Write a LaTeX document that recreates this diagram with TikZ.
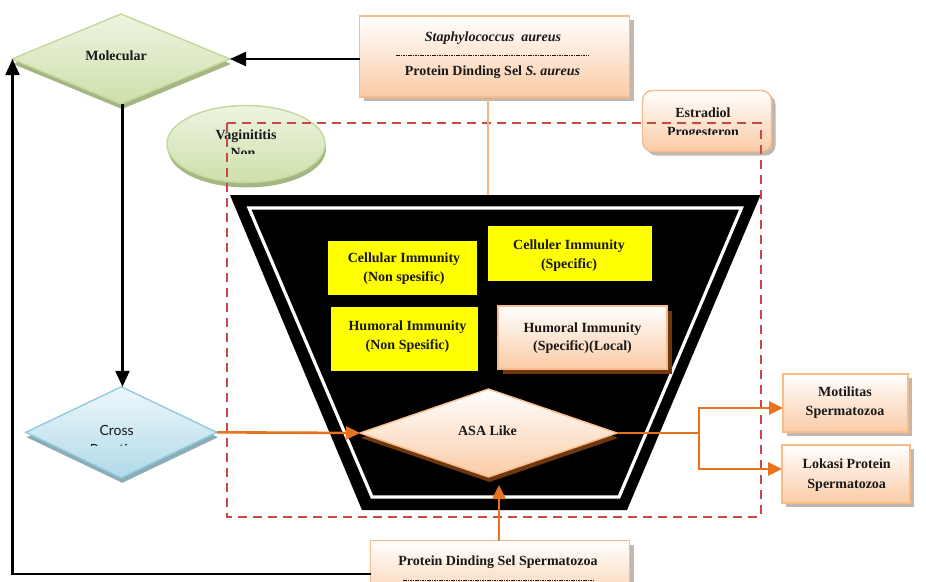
\documentclass[tikz,border=0pt]{standalone}
\usepackage{fontspec}
\setmainfont{Liberation Serif}
\newfontfamily\crossfont{Lato}
\usetikzlibrary{shapes.geometric,shadows,arrows.meta,calc}
\definecolor{peach}{RGB}{250,203,165}
\definecolor{peachline}{RGB}{248,188,138}
\definecolor{boxshadow}{RGB}{195,182,172}
\definecolor{orangeline}{RGB}{232,115,30}
\definecolor{lightorange}{RGB}{248,178,125}
\definecolor{greenA}{RGB}{238,244,225}
\definecolor{greenB}{RGB}{205,224,170}
\definecolor{greenline}{RGB}{196,216,155}
\definecolor{greenshadow}{RGB}{165,182,130}
\definecolor{blueA}{RGB}{238,247,251}
\definecolor{blueB}{RGB}{175,218,232}
\definecolor{blueline}{RGB}{145,203,222}
\definecolor{blueshadow}{RGB}{140,172,184}
\definecolor{reddash}{RGB}{200,72,72}
\definecolor{asashadow}{RGB}{110,55,15}
\definecolor{txt}{RGB}{25,25,25}
\definecolor{yel}{RGB}{255,255,0}
\tikzset{
 lbl/.style={anchor=base, inner sep=0pt, text=txt, font=\fontsize{14}{19}\selectfont\bfseries},
 peachbox/.style={rectangle, draw=peachline, line width=1.4pt, top color=white, bottom color=peach,
   general shadow={fill=boxshadow, shadow xshift=4pt, shadow yshift=-4pt}, inner sep=0pt, outer sep=0pt},
 yelbox/.style={rectangle, fill=yel, inner sep=0pt, outer sep=0pt},
 greenshape/.style={draw=greenline, line width=1.4pt, top color=greenA, bottom color=greenB,
   general shadow={fill=greenshadow, shadow xshift=1pt, shadow yshift=-5pt}, inner sep=0pt, outer sep=0pt},
 blueshape/.style={diamond, draw=blueline, line width=1.4pt, top color=blueA, bottom color=blueB,
   general shadow={fill=blueshadow, shadow xshift=1pt, shadow yshift=-5pt}, inner sep=0pt, outer sep=0pt},
 asashape/.style={diamond, draw=peachline, line width=1.4pt, top color=white, bottom color=peach,
   general shadow={fill=asashadow, shadow xshift=1pt, shadow yshift=-5pt}, inner sep=0pt, outer sep=0pt},
 blkarrow/.style={line width=2.2pt, draw=black, -{Triangle[length=16pt,width=14pt]}},
 orarrow/.style={line width=2.6pt, draw=orangeline, -{Triangle[length=14pt,width=13pt]}},
 orline/.style={line width=2.6pt, draw=orangeline},
 hyphrow/.style={line width=0.9pt, draw=txt, dash pattern=on 1.6pt off 0.8pt},
}
\begin{document}
\begin{tikzpicture}[x=1pt,y=-1pt]
\useasboundingbox (0,0) rectangle (926,581);
\fill[white] (0,0) rectangle (926,581);

% Vaginititis ellipse
\node[ellipse, greenshape, minimum width=158pt, minimum height=77pt] (vag) at (246,144) {};
\node[lbl] (vagA) at (246,139.3) {Vaginititis};
\begin{scope}
\clip (160,145) rectangle (330,153.5);
\node[lbl] (vagB) at (243,157.5) {Non};
\end{scope}

% Estradiol box
\node[peachbox, rounded corners=10pt, minimum width=129pt, minimum height=61pt] (estr) at (707,121) {};
\node[lbl] (estrA) at (703,117.3) {Estradiol};
\begin{scope}
\clip (640,120) rectangle (775,134.3);
\node[lbl] (estrB) at (703,136.5) {Progesteron};
\end{scope}

% Staphylococcus box
\node[peachbox, minimum width=270pt, minimum height=81pt] (staph) at (494.5,56.5) {};
\node[lbl] (staphA) at (493,41) {\itshape Staphylococcus\ \ aureus};
\draw[hyphrow] (396,55) -- (589,55);
\node[lbl] (staphB) at (492.5,75) {Protein Dinding Sel \textit{S. aureus}};

% Molecular diamond
\node[diamond, greenshape, minimum width=218pt, minimum height=90pt] (mol) at (121,59) {};
\node[lbl] (molT) at (116,60) {Molecular};

% red dashed frame
\draw[reddash, line width=2pt, dash pattern=on 9pt off 6pt] (227,123) rectangle (760.5,516.7);

% black trapezoid
\fill[black] (230,195) -- (760.5,195) -- (627,510) -- (362,510) -- cycle;
\draw[white, line width=3.2pt] (249,208) -- (741.5,208) -- (619,497) -- (372,497) -- cycle;

% immunity boxes
\node[yelbox, minimum width=149pt, minimum height=54pt] (cin) at (402.5,268) {};
\node[lbl] at (404,262.7) {Cellular Immunity};
\node[lbl] at (404,281.7) {(Non spesific)};
\node[yelbox, minimum width=164pt, minimum height=55pt] (cis) at (570,253.5) {};
\node[lbl] at (569,249.3) {Celluler Immunity};
\node[lbl] at (569,268.3) {(Specific)};
\node[yelbox, minimum width=147pt, minimum height=64pt] (hin) at (404.5,339) {};
\node[lbl] at (407.5,330) {Humoral Immunity};
\node[lbl] at (407.5,349.3) {(Non Spesific)};
\node[rectangle, draw=peachline, line width=1.4pt, top color=white, bottom color=peach,
   general shadow={fill=asashadow, shadow xshift=5pt, shadow yshift=-5pt}, inner sep=0pt,
   minimum width=169pt, minimum height=63pt] (his) at (582.5,337.5) {};
\node[lbl] at (582.5,332.3) {Humoral Immunity};
\node[lbl] at (582.5,350.7) {(Specific)(Local)};

% ASA Like diamond
\node[asashape, minimum width=257pt, minimum height=88pt] (asa) at (488.5,433) {};
\node[lbl] (asaT) at (487.5,435) {ASA Like};

% Cross Reaction diamond
\node[blueshape, minimum width=191pt, minimum height=91pt] (cross) at (121.3,432.3) {};
\node[anchor=base, inner sep=0pt, text=txt, font=\fontsize{14}{19}\crossfont] (crossA) at (116.7,435) {Cross};
\begin{scope}
\clip (40,437) rectangle (200,445);
\node[anchor=base, inner sep=0pt, text=txt, font=\fontsize{14}{19}\crossfont] (crossB) at (116.7,454) {Reaction};
\end{scope}

% output boxes
\node[peachbox, minimum width=125pt, minimum height=58pt] (motil) at (845.5,403) {};
\node[lbl] at (845,396.7) {Motilitas};
\node[lbl] at (845,415) {Spermatozoa};
\node[peachbox, minimum width=128pt, minimum height=58pt] (lok) at (846,474) {};
\node[lbl] at (846.7,468.3) {Lokasi Protein};
\node[lbl] at (846.7,488.3) {Spermatozoa};

% sperm box
\node[peachbox, minimum width=259pt, minimum height=67pt] (sperm) at (500,574) {};
\node[lbl] (spermA) at (498,565) {Protein Dinding Sel Spermatozoa};
\draw[hyphrow] (403,580.5) -- (593,580.5);

% connectors
\draw[blkarrow] (staph.west |- mol.east) -- (mol.east);
\draw[line width=1.8pt, lightorange] (staph.south -| 488,0) -- (488,195);
\draw[blkarrow] (mol.south -| 122.5,0) -- (cross.north -| 122.5,0);
\draw[blkarrow] (sperm.west) -- (12.5,574) -- (mol.west -| 12.5,0);
\draw[orarrow] (cross.east) -- (asa.west);
\draw[orarrow] ([xshift=-1pt]sperm.north) -- ([xshift=10.5pt,yshift=-8pt]asa.south);
\draw[orline] (asa.east) -- (699,433) coordinate (split);
\draw[orarrow] (split) |- ([yshift=-5pt]motil.west);
\draw[orarrow] (split) |- ([yshift=5pt]lok.west);
\end{tikzpicture}
\end{document}
